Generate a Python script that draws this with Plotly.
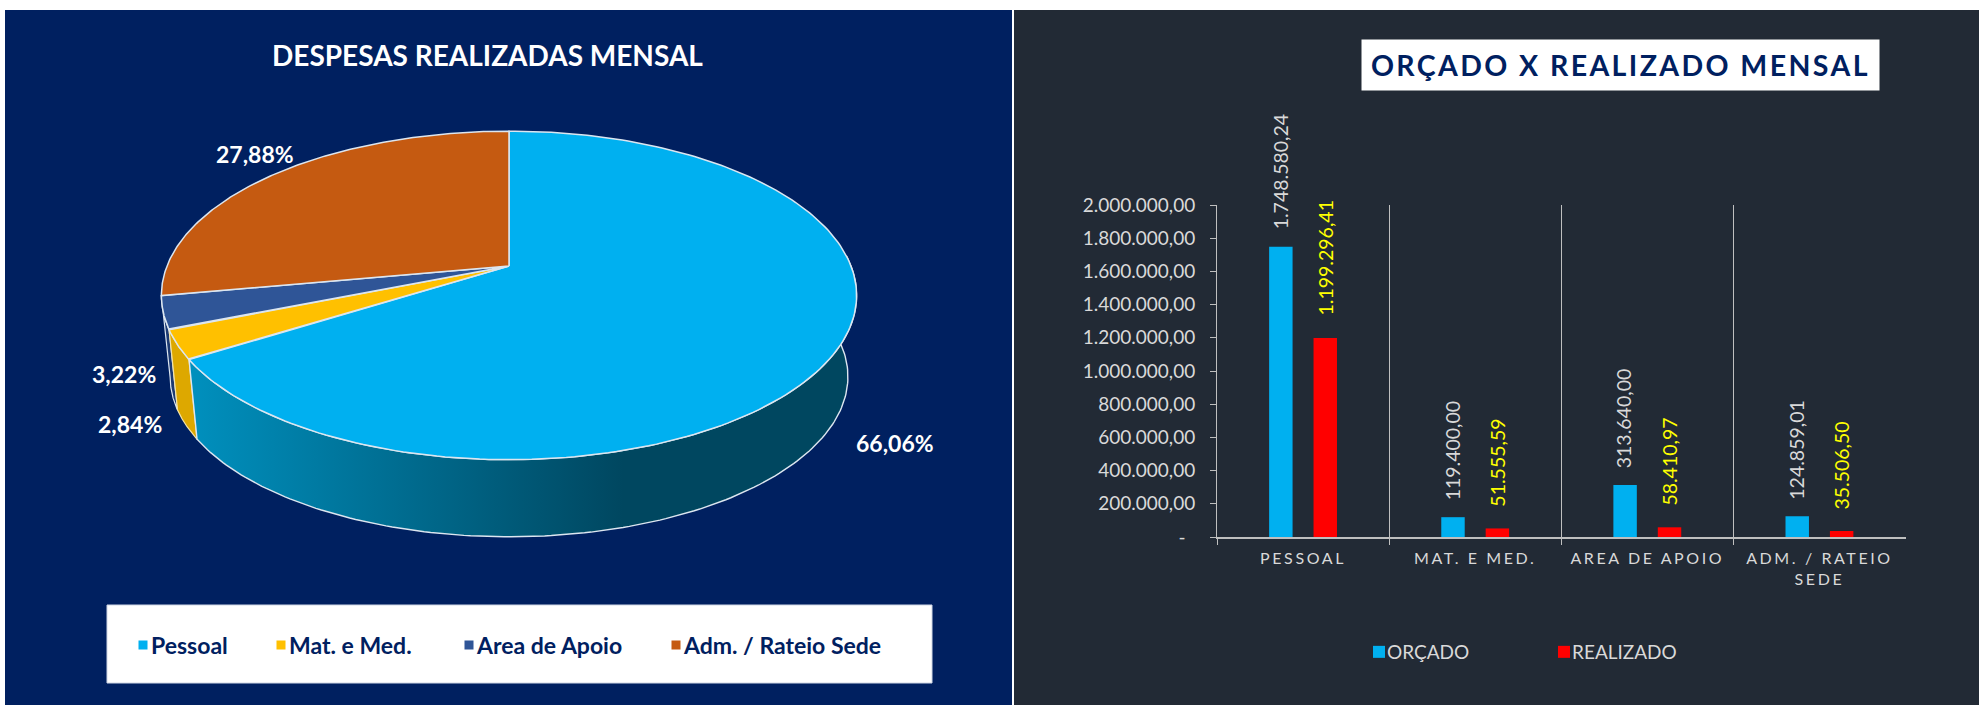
import numpy as np
import plotly.graph_objects as go

# ---- data ----
PIE_LABELS = ["Pessoal", "Mat. e Med.", "Area de Apoio", "Adm. / Rateio Sede"]
PIE_PCT = [66.06, 2.84, 3.22, 27.88]
PIE_COLORS = ["#00B0F0", "#FFC000", "#2F5597", "#C55A11"]
BAR_CATS = ["PESSOAL", "MAT. E MED.", "AREA DE APOIO", "ADM. / RATEIO<br>SEDE"]
ORCADO = [1748580.24, 119400.00, 313640.00, 124859.01]
REALIZADO = [1199296.41, 51555.59, 58410.97, 35506.50]
Y_TICKS = [0, 200000, 400000, 600000, 800000, 1000000, 1200000, 1400000, 1600000, 1800000, 2000000]

# ---- styling / geometry ----
W, H = 1979, 705
NAVY, SLATE = "#002060", "#222A35"
BLUE, RED = "#00B0F0", "#FF0000"
GREY = "#BFBFBF"
RIM = "#DCE6F0"
APEX_X, APEX_Y = 509.0, 266.0      # pie centre on the canvas
A, B, K = 342.0, 159.0, 0.179      # perspective projection of the disc
DROP, SHRINK = 82.0, 0.975         # depth of the disc
LABEL_POS = [(895, 443), (130, 424), (124, 374), (255, 154)]
PIE_LEGEND_X = [111, 249, 437, 644]
BAR_LEGEND_X = [1347, 1532]
FONT = "Lato, 'Open Sans', sans-serif"


def br(v, decimals=2):
    s = f"{v:,.{decimals}f}"
    return s.replace(",", "#").replace(".", ",").replace("#", ".")


def top_rim(pct):
    t = np.radians(np.asarray(pct, dtype=float) * 3.6)
    u, v = np.sin(t), np.cos(t)
    d = 1 + K * v
    return APEX_X + A * u / d, APEX_Y - B * v / d


def low_rim(pct):
    x, y = top_rim(pct)
    return APEX_X + (x - APEX_X) * SHRINK, APEX_Y + (y - APEX_Y) * SHRINK + DROP


def wall(p0, p1):
    p = np.linspace(p0, p1, 160)
    tx, ty = top_rim(p)
    lx, ly = low_rim(p)
    return np.r_[tx, lx[::-1], tx[0]], np.r_[ty, ly[::-1], ty[0]]


fig = go.Figure()
cum = np.r_[0, np.cumsum(PIE_PCT)]

# side walls of the disc (back to front)
x, y = wall(cum[2], cum[3])
fig.add_trace(go.Scatter(x=x, y=y, mode="lines", fill="toself", fillcolor="#1C3A72",
                         line=dict(color=RIM, width=1.2), hoverinfo="skip", showlegend=False))
x, y = wall(cum[1], cum[2])
fig.add_trace(go.Scatter(x=x, y=y, mode="lines", fill="toself", fillcolor="#DDA800",
                         line=dict(color="#F3E3A8", width=1.2), hoverinfo="skip", showlegend=False))
x, y = wall(24, cum[1])
fig.add_trace(go.Scatter(
    x=x, y=y, mode="lines", fill="toself",
    fillgradient=dict(type="horizontal",
                      colorscale=[[0, "#0090BE"], [0.65, "#004760"], [1, "#004760"]]),
    line=dict(color=RIM, width=1.4), hoverinfo="skip", showlegend=False))

# top face slices
legend_layout = {}
for i, name in enumerate(PIE_LABELS):
    p = np.linspace(cum[i], cum[i + 1], 200)
    tx, ty = top_rim(p)
    fig.add_trace(go.Scatter(x=np.r_[APEX_X, tx, APEX_X], y=np.r_[APEX_Y, ty, APEX_Y],
                             mode="lines", fill="toself", fillcolor=PIE_COLORS[i],
                             line=dict(color=RIM, width=1.5), hoverinfo="text", text=name,
                             showlegend=False))
    lg = f"legend{i + 2}"
    fig.add_trace(go.Scatter(x=[None], y=[None], mode="markers", name=name, legend=lg,
                             marker=dict(symbol="square", size=9, color=PIE_COLORS[i])))
    legend_layout[lg] = dict(x=PIE_LEGEND_X[i] / W, y=1 - 645 / H, xanchor="left", yanchor="middle",
                             bgcolor="rgba(0,0,0,0)",
                             font=dict(family=FONT, size=23, color="#002060", weight="bold"))

# bars
fig.add_trace(go.Bar(x=BAR_CATS, y=ORCADO, name="ORÇADO", marker=dict(color=BLUE, line_width=0),
                     xaxis="x2", yaxis="y2", legend="legend"))
fig.add_trace(go.Bar(x=BAR_CATS, y=REALIZADO, name="REALIZADO", marker=dict(color=RED, line_width=0),
                     xaxis="x2", yaxis="y2", legend="legend6"))
for lg, lx in zip(("legend", "legend6"), BAR_LEGEND_X):
    legend_layout[lg] = dict(x=lx / W, y=1 - 652 / H, xanchor="left", yanchor="middle",
                             bgcolor="rgba(0,0,0,0)", font=dict(family=FONT, size=19, color="#D9D9D9"))

ann = [
    dict(x=1620.5, y=65, text="<b>ORÇADO X REALIZADO MENSAL</b>", showarrow=False, bgcolor="white",
         width=515, height=48, xanchor="center", yanchor="middle",
         font=dict(family=FONT, size=28.5, color=NAVY)),
    dict(x=487, y=55, text="<b>DESPESAS REALIZADAS MENSAL</b>", showarrow=False,
         xanchor="center", yanchor="middle", font=dict(family=FONT, size=28, color="white")),
]
for (lx, ly), pct in zip(LABEL_POS, PIE_PCT):
    ann.append(dict(x=lx, y=ly, text=f"<b>{br(pct)}%</b>", showarrow=False, xanchor="center",
                    yanchor="middle", font=dict(family=FONT, size=23, color="white")))
for series, shift, col, ys in ((ORCADO, -23, "#D9D9D9", 15), (REALIZADO, 22, "#FFFF00", 20)):
    for c, v in zip(BAR_CATS, series):
        ann.append(dict(x=c, y=v, xref="x2", yref="y2", text=br(v), showarrow=False, textangle=-90,
                        xanchor="center", yanchor="bottom", xshift=shift, yshift=ys,
                        font=dict(family=FONT, size=19.5, color=col)))

fig.update_layout(
    width=W, height=H, margin=dict(l=0, r=0, t=0, b=0, pad=0, autoexpand=False),
    paper_bgcolor="white", plot_bgcolor="rgba(0,0,0,0)",
    barmode="group", bargap=0.484, bargroupgap=0.472,
    font=dict(family=FONT),
    xaxis=dict(domain=[0, 1], range=[0, W], visible=False, fixedrange=True),
    yaxis=dict(domain=[0, 1], range=[H, 0], visible=False, fixedrange=True),
    xaxis2=dict(domain=[1217 / W, 1905.5 / W], anchor="y2", type="category", tickson="boundaries",
                showgrid=True, gridcolor=GREY, gridwidth=1, showline=True, linecolor=GREY, linewidth=2,
                ticks="outside", ticklen=6, tickcolor=GREY, ticklabelstandoff=6,
                tickfont=dict(family=FONT, size=16, color="#D9D9D9"), fixedrange=True),
    yaxis2=dict(domain=[1 - 537 / H, 1 - 205 / H], anchor="x2", range=[0, 2000000], tickmode="array",
                tickvals=Y_TICKS, ticktext=[br(v) if v else "-\u00a0\u00a0" for v in Y_TICKS],
                showgrid=False, zeroline=False, showline=True, linecolor=GREY, linewidth=1,
                ticks="outside", ticklen=6, tickcolor=GREY, ticklabelstandoff=11,
                tickfont=dict(family=FONT, size=19, color="#D9D9D9"), fixedrange=True),
    annotations=ann,
    shapes=[
        dict(type="rect", xref="paper", yref="paper", x0=5 / W, x1=1012 / W, y0=0, y1=1 - 10 / H,
             fillcolor=NAVY, line_width=0, layer="below"),
        dict(type="rect", xref="paper", yref="paper", x0=1014 / W, x1=1, y0=0, y1=1 - 10 / H,
             fillcolor=SLATE, line_width=0, layer="below"),
        dict(type="rect", xref="paper", yref="paper", x0=107 / W, x1=932 / W, y0=1 - 683 / H, y1=1 - 605 / H,
             fillcolor="white", line=dict(color="#D0D7E5", width=1), layer="below"),
    ],
    **legend_layout,
)

CSS = (
    "body{margin:0;overflow:hidden}"
    ".x2tick text{letter-spacing:2.6px}"
    ".annotation[data-index='0'] .annotation-text{letter-spacing:2.4px}"
    ".legendsymbols{transform:translateX(12px)}"
)
fig.write_html("out.html", config={"displayModeBar": False},
               post_script=f"document.head.insertAdjacentHTML('beforeend', `<style>{CSS}</style>`);")
